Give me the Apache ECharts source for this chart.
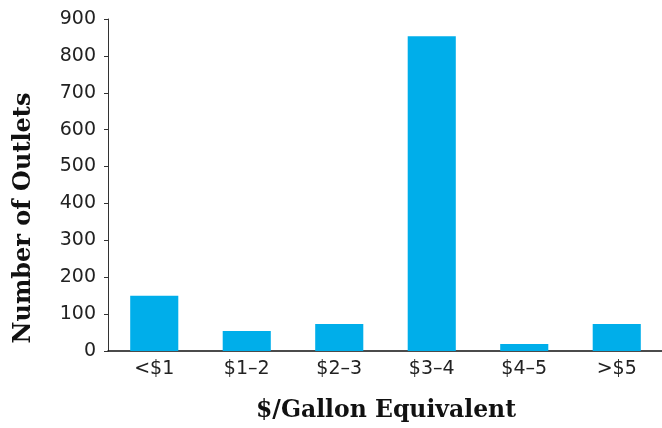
<!DOCTYPE html>
<html>
<head>
<meta charset="utf-8">
<script src="https://cdn.jsdelivr.net/npm/echarts@6/dist/echarts.min.js"></script>
<style>
html,body{margin:0;padding:0;background:#fff;}
#chart{width:662px;height:428px;}
</style>
</head>
<body>
<div id="chart"></div>
<script>
const categories = ['<$1', '$1\u20132', '$2\u20133', '$3\u20134', '$4\u20135', '>$5'];
const outlets = [150, 54, 73, 853, 19, 73];
const yTicks = [0, 100, 200, 300, 400, 500, 600, 700, 800, 900];
const xTitle = '$/Gallon Equivalent';
const yTitle = 'Number of Outlets';

const chart = echarts.init(document.getElementById('chart'), null, {renderer: 'canvas'});
chart.setOption({
  animation: false,
  backgroundColor: '#fff',
  grid: {left: 108, right: -1, top: 19, bottom: 77, containLabel: false, outerBoundsMode: 'none'},
  xAxis: {
    type: 'category',
    data: categories,
    axisLine: {lineStyle: {color: '#111', width: 1.5}},
    axisTick: {show: false},
    axisLabel: {fontFamily: 'DejaVu Sans', fontSize: 19, color: '#222', margin: 9}
  },
  yAxis: {
    type: 'value',
    min: yTicks[0],
    max: yTicks[yTicks.length - 1],
    interval: 100,
    axisLine: {show: true, lineStyle: {color: '#333', width: 1}},
    axisTick: {show: true, length: 4, lineStyle: {color: '#333'}},
    splitLine: {show: false},
    axisLabel: {fontFamily: 'DejaVu Sans', fontSize: 19, color: '#222', margin: 12}
  },
  graphic: [{
    type: 'text',
    x: 24,
    y: 218,
    rotation: Math.PI / 2,
    style: {
      text: yTitle,
      fontFamily: 'DejaVu Serif',
      fontWeight: 'bold',
      fontSize: 24,
      fill: '#111',
      textAlign: 'center',
      textVerticalAlign: 'middle'
    }
  }, {
    type: 'text',
    x: 386,
    y: 411,
    style: {
      text: xTitle,
      fontFamily: 'DejaVu Serif',
      fontWeight: 'bold',
      fontSize: 23.5,
      fill: '#111',
      textAlign: 'center',
      textVerticalAlign: 'middle'
    }
  }],
  series: [{
    type: 'bar',
    data: outlets,
    barWidth: '52%',
    itemStyle: {color: '#00aeea'}
  }]
});
</script>
</body>
</html>
